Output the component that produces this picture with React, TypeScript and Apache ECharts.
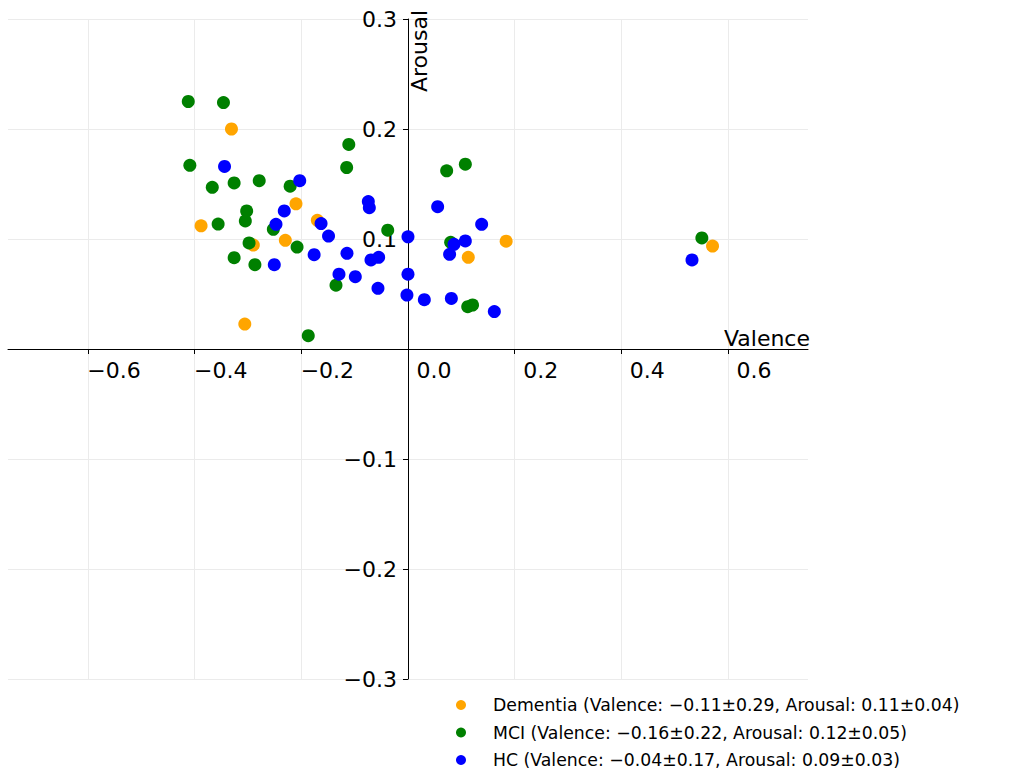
import React, { useEffect, useRef } from 'react';
import * as echarts from 'echarts';

// Group labels with their summary statistics
const groupNames = [
  'Dementia (Valence: \u22120.11\u00b10.29, Arousal: 0.11\u00b10.04)',
  'MCI (Valence: \u22120.16\u00b10.22, Arousal: 0.12\u00b10.05)',
  'HC (Valence: \u22120.04\u00b10.17, Arousal: 0.09\u00b10.03)',
];
const groupColors = ['#FFA500', '#008000', '#0000FF'];

// Dementia participants
const dementiaValence = [-0.331, -0.21, -0.388, -0.17, -0.29, -0.23, -0.306, 0.184, 0.113, 0.571];
const dementiaArousal = [0.2, 0.132, 0.112, 0.117, 0.0945, 0.0988, 0.0227, 0.098, 0.0834, 0.0936];

// MCI participants
const mciValence = [
  -0.412, -0.346, -0.409, -0.367, -0.326, -0.279, -0.221, -0.3025, -0.356, -0.305,
  -0.2525, -0.298, -0.208, -0.326, -0.287, -0.187, -0.111, -0.115, -0.038, -0.135,
  0.0725, 0.1075, 0.08, 0.112, 0.121, 0.551,
];
const mciArousal = [
  0.225, 0.224, 0.167, 0.147, 0.151, 0.153, 0.148, 0.1255, 0.1136, 0.1164,
  0.1088, 0.0964, 0.0927, 0.083, 0.0767, 0.0121, 0.186, 0.165, 0.108, 0.058,
  0.162, 0.168, 0.097, 0.0385, 0.04, 0.101,
];

// Healthy controls
const hcValence = [
  -0.344, -0.203, -0.232, -0.2475, -0.163, -0.176, -0.2507, -0.0744, -0.0725, -0.149,
  0.0, -0.1144, -0.0694, -0.055, -0.1294, -0.0988, -0.0563, 0.0, -0.002, 0.0556,
  0.1381, 0.0863, 0.1075, 0.078, 0.0306, 0.0813, 0.1619, 0.5325,
];
const hcArousal = [
  0.166, 0.153, 0.1255, 0.1133, 0.114, 0.0857, 0.0767, 0.134, 0.1285, 0.1027,
  0.102, 0.087, 0.081, 0.0834, 0.068, 0.0657, 0.0552, 0.068, 0.049, 0.1294,
  0.1133, 0.0952, 0.0982, 0.0861, 0.0448, 0.046, 0.034, 0.081,
];

const xTicks = [-0.6, -0.4, -0.2, 0, 0.2, 0.4, 0.6];
const xMin = -0.75;
const xMax = 0.75;
const yMin = -0.3;
const yMax = 0.3;

// Plot area in pixels
const GRID_LEFT = 8;
const GRID_TOP = 19;
const GRID_W = 800;
const GRID_H = 660;

const fmt = (v: number) => (Math.abs(v) < 1e-9 ? '0.0' : v.toFixed(1)).replace('-', '\u2212');

const zip = (xs: number[], ys: number[]) => xs.map((x, i) => [x, ys[i]]);

export default function App() {
  const ref = useRef<HTMLDivElement>(null);

  useEffect(() => {
    if (!ref.current) return;
    const chart = echarts.init(ref.current, null, { renderer: 'svg' });
    const groups = [
      zip(dementiaValence, dementiaArousal),
      zip(mciValence, mciArousal),
      zip(hcValence, hcArousal),
    ];
    // The axes cross at the origin: shift them from the grid edges to zero
    const xAxisOffset = -(GRID_H * (0 - yMin)) / (yMax - yMin);
    const yAxisOffset = -(GRID_W * (0 - xMin)) / (xMax - xMin);
    chart.setOption({
      animation: false,
      textStyle: { fontFamily: 'DejaVu Sans' },
      grid: {
        left: GRID_LEFT,
        top: GRID_TOP,
        width: GRID_W,
        height: GRID_H,
        containLabel: false,
        outerBoundsMode: 'none',
      },
      xAxis: {
        type: 'value',
        min: xMin,
        max: xMax,
        position: 'bottom',
        offset: xAxisOffset,
        name: 'Valence',
        nameLocation: 'end',
        nameGap: 2,
        nameTextStyle: { fontSize: 22, color: '#000', align: 'right', verticalAlign: 'bottom' },
        axisLine: { show: true, onZero: false, lineStyle: { color: '#000', width: 1 } },
        axisTick: { show: true, inside: false, length: 5, customValues: xTicks, lineStyle: { color: '#000', width: 1 } },
        axisLabel: {
          customValues: xTicks,
          formatter: fmt,
          fontSize: 22,
          color: '#000',
          margin: 10,
          align: 'center',
          padding: [0, 0, 0, 52],
        },
        splitLine: { show: true, lineStyle: { color: '#ebebeb', width: 1 } },
      },
      yAxis: {
        type: 'value',
        min: yMin,
        max: yMax,
        interval: 0.1,
        position: 'left',
        offset: yAxisOffset,
        name: 'Arousal',
        nameLocation: 'end',
        nameGap: 9,
        nameRotate: 90,
        nameTextStyle: { fontSize: 22, color: '#000', align: 'right', verticalAlign: 'top' },
        axisLine: { show: true, onZero: false, lineStyle: { color: '#000', width: 1 } },
        axisTick: { show: true, inside: false, length: 5, lineStyle: { color: '#000', width: 1 } },
        axisLabel: {
          formatter: (v: number) => (Math.abs(v) < 1e-9 ? '' : fmt(v)),
          fontSize: 22,
          color: '#000',
          margin: 11,
        },
        splitLine: { show: true, lineStyle: { color: '#ebebeb', width: 1 } },
      },
      legend: {
        orient: 'vertical',
        left: 456,
        top: 695,
        padding: 0,
        itemWidth: 54,
        itemHeight: 10,
        itemGap: 7.5,
        icon: 'circle',
        textStyle: { fontSize: 17.3, color: '#000', lineHeight: 20 },
        data: groupNames,
      },
      series: groups.map((data, i) => ({
        type: 'scatter',
        name: groupNames[i],
        data,
        symbol: 'circle',
        symbolSize: 13,
        itemStyle: { color: groupColors[i], opacity: 1 },
        emphasis: { disabled: true },
      })),
    });
    return () => chart.dispose();
  }, []);

  return (
    <div
      ref={ref}
      style={{ position: 'absolute', left: 0, top: 0, width: 1016, height: 772 }}
    />
  );
}
